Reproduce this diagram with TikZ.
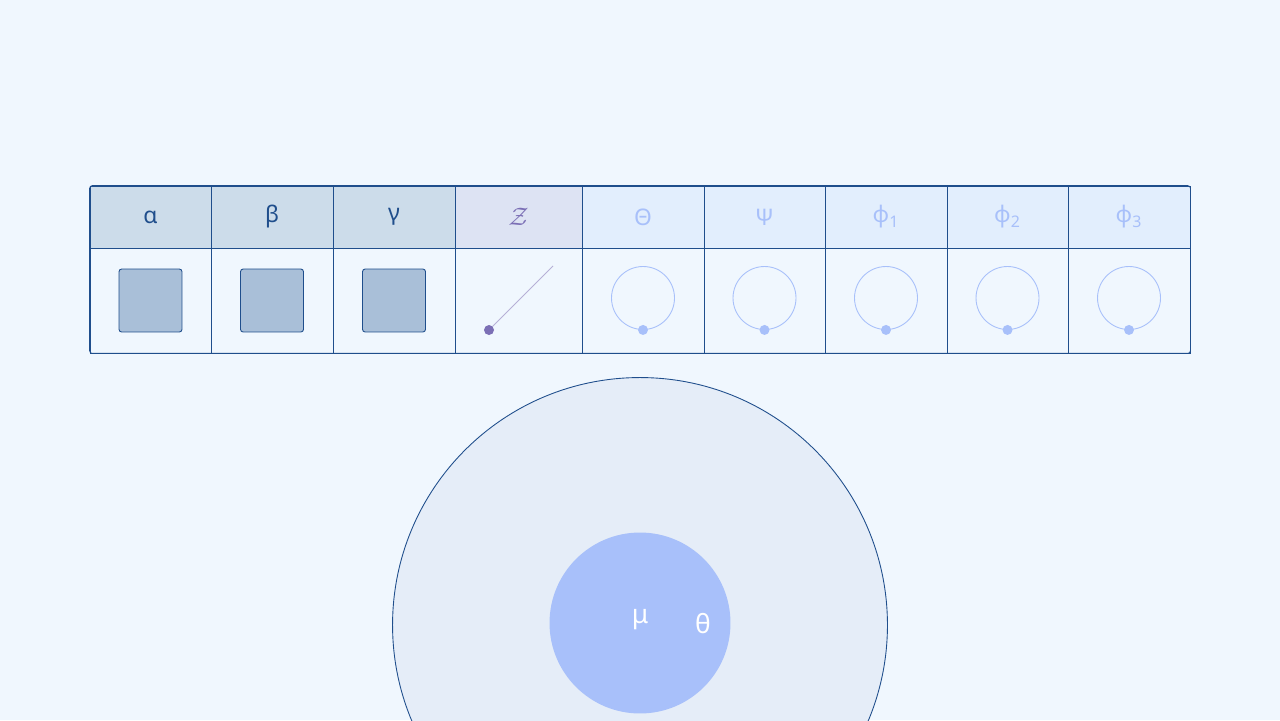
\documentclass[tikz,border=0pt]{standalone}
\usepackage{fontspec}
\setmainfont{Noto Sans}
\usetikzlibrary{calc}
\definecolor{pagebg}{HTML}{F0F7FE}
\definecolor{navy}{HTML}{1F4E8C}
\definecolor{steelhead}{HTML}{CCDCEA}
\definecolor{lavhead}{HTML}{DDE3F3}
\definecolor{palehead}{HTML}{E2EEFD}
\definecolor{slate}{HTML}{A9BFD8}
\definecolor{zviolet}{HTML}{7B6FB5}
\definecolor{sky}{HTML}{A8C0FA}
\definecolor{disc}{HTML}{E5EDF8}
\def\cellnode{\node[draw=navy,line width=0.45pt,inner sep=0pt]}
\def\dotnode{\node[circle,inner sep=0pt,minimum size=0.2cm]}
\def\ringnode{\node[circle,draw=sky,line width=0.5pt,inner sep=0pt,minimum size=1.26cm]}

\begin{document}
\begin{tikzpicture}[x=0.02cm,y=-0.02cm,font=\fontsize{13}{15}\selectfont]
\useasboundingbox (0,0) rectangle (1280,720);
\clip (0,0) rectangle (1280,720);
\fill[pagebg] (0,0) rectangle (1280,720);
% header and body cells
\foreach \i/\cx/\w/\lab/\hc/\tc in {
  1/150.5/2.42/α/steelhead/navy,
  2/272/2.44/β/steelhead/navy,
  3/394/2.44/γ/steelhead/navy,
  4/518.5/2.54/{\fontsize{15}{17}\selectfont$\mathcal{Z}$}/lavhead/zviolet,
  5/643/2.44/Θ/palehead/sky,
  6/764.5/2.42/Ψ/palehead/sky,
  7/886/2.44/ϕ\textsubscript{1}/palehead/sky,
  8/1007.5/2.42/ϕ\textsubscript{2}/palehead/sky,
  9/1129/2.44/ϕ\textsubscript{3}/palehead/sky}{
  \cellnode[fill=\hc,text=\tc,minimum width=\w cm,minimum height=1.24cm] (h\i) at (\cx,217) {\lab};
  \cellnode[fill=pagebg,minimum width=\w cm,minimum height=2.1cm] (b\i) at (\cx,300.5) {};
}
\draw[navy,line width=0.45pt,rounded corners=1.5pt] (h1.north west) rectangle (b9.south east);
% squares
\foreach \i in {1,2,3}
  \node[draw=navy,fill=slate,line width=0.5pt,rounded corners=1.5pt,minimum size=1.26cm] (sq\i) at (b\i) {};
% slanted stroke
\coordinate (zend) at (553,266);
\dotnode[fill=zviolet] (zdot) at (489,330) {};
\draw[zviolet!55,line width=0.5pt] (zdot) -- (zend);
% rings
\foreach \i in {5,...,9}{
  \ringnode (ring\i) at ($(b\i)+(0,-2.5)$) {};
  \dotnode[fill=sky] (rdot\i) at (ring\i.south) {};
}
% discs
\node[circle,draw=navy,fill=disc,line width=0.5pt,minimum size=9.9cm] (outer) at (640,625) {};
\node[circle,fill=sky,minimum size=3.62cm] (inner) at (640,623) {};
\node[text=white,font=\fontsize{15}{17}\selectfont] (mu) at (640,620) {μ};
\node[text=white,font=\fontsize{15}{17}\selectfont] (theta) at (703,624) {θ};
\end{tikzpicture}
\end{document}
